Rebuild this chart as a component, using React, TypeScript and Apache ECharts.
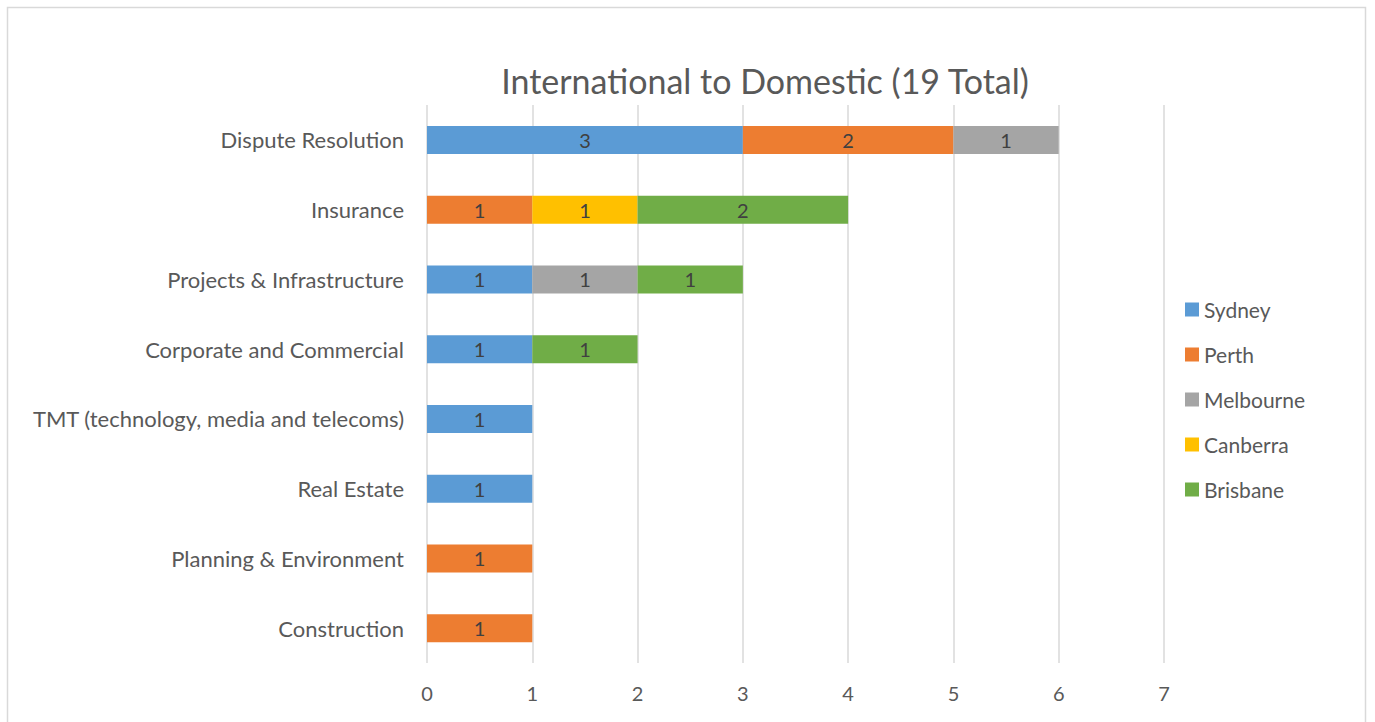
import React, { useEffect, useRef } from "react";
import * as echarts from "echarts";

const categories = [
  "Dispute Resolution",
  "Insurance",
  "Projects & Infrastructure",
  "Corporate and Commercial",
  "TMT (technology, media and telecoms)",
  "Real Estate",
  "Planning & Environment",
  "Construction",
];
const sydney = [3, null, 1, 1, 1, 1, null, null];
const perth = [2, 1, null, null, null, null, 1, 1];
const melbourne = [1, null, 1, null, null, null, null, null];
const canberra = [null, 1, null, null, null, null, null, null];
const brisbane = [null, 2, 1, 1, null, null, null, null];
const xTicks = [0, 1, 2, 3, 4, 5, 6, 7];

const seriesDefs = [
  { name: "Sydney", data: sydney, color: "#5B9BD5" },
  { name: "Perth", data: perth, color: "#ED7D31" },
  { name: "Melbourne", data: melbourne, color: "#A5A5A5" },
  { name: "Canberra", data: canberra, color: "#FFC000" },
  { name: "Brisbane", data: brisbane, color: "#70AD47" },
];

const FONT = "Lato";

export default function App() {
  const ref = useRef<HTMLDivElement>(null);
  useEffect(() => {
    if (!ref.current) return;
    const chart = echarts.init(ref.current, null, { renderer: "svg" });
    chart.setOption({
      animation: false,
      backgroundColor: "#ffffff",
      textStyle: { fontFamily: FONT },
      title: {
        text: "International to Domestic (19 Total)",
        left: 760,
        top: 58,
        textAlign: "center",
        textStyle: { fontFamily: FONT, fontSize: 34, fontWeight: "normal", color: "#595959" },
      },
      graphic: [
        {
          type: "rect",
          shape: { x: 7.5, y: 7.5, width: 1358, height: 730 },
          style: { fill: "none", stroke: "#d9d9d9", lineWidth: 1.5 },
          silent: true,
        },
      ],
      legend: {
        orient: "vertical",
        left: 1180,
        top: 294,
        itemGap: 24,
        itemWidth: 14,
        itemHeight: 14,
        icon: "rect",
        data: seriesDefs.map((s) => s.name),
        textStyle: { fontFamily: FONT, fontSize: 21, color: "#595959" },
      },
      grid: { left: 427, right: 1375 - 1164, top: 105, bottom: 722 - 663, containLabel: false },
      xAxis: {
        type: "value",
        min: 0,
        max: xTicks[xTicks.length - 1],
        interval: 1,
        axisLine: { show: false },
        axisTick: { show: false },
        splitLine: { lineStyle: { color: "#d9d9d9", width: 1.5 } },
        axisLabel: { fontFamily: FONT, fontSize: 20, color: "#595959", margin: 20 },
      },
      yAxis: {
        type: "category",
        inverse: true,
        data: categories,
        axisLine: { show: false },
        axisTick: { show: false },
        axisLabel: { fontFamily: FONT, fontSize: 22, color: "#595959", margin: 23 },
      },
      series: seriesDefs.map((s) => ({
        name: s.name,
        type: "bar",
        stack: "total",
        barWidth: 28,
        data: s.data.map((v) => (v == null ? "-" : v)),
        itemStyle: { color: s.color },
        label: {
          show: true,
          position: "inside",
          fontFamily: FONT,
          fontSize: 20,
          color: "#404040",
        },
      })),
    });
    return () => chart.dispose();
  }, []);
  return (
    <div
      ref={ref}
      style={{ position: "fixed", left: 0, top: 0, width: 1375, height: 722 }}
    />
  );
}
